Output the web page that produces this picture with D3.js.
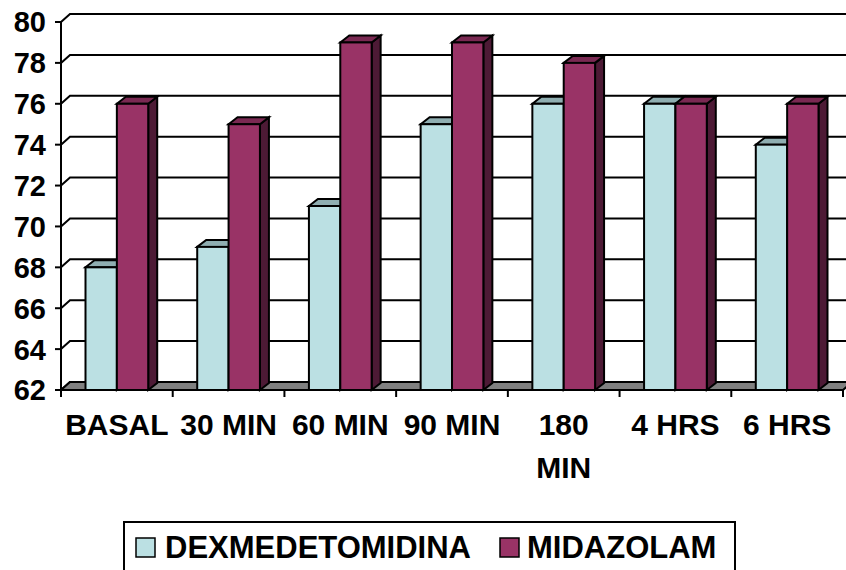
<!DOCTYPE html>
<html>
<head>
<meta charset="utf-8">
<script src="https://cdn.jsdelivr.net/npm/d3@7/dist/d3.min.js"></script>
<style>
  html, body { margin: 0; padding: 0; background: #fff; }
  svg { display: block; }
  text { font-family: Arial, "Liberation Sans", sans-serif; font-weight: bold; fill: #000; }
</style>
</head>
<body>
<script>
const categories = ["BASAL", "30 MIN", "60 MIN", "90 MIN", "180 MIN", "4 HRS", "6 HRS"];
const seriesNames = ["DEXMEDETOMIDINA", "MIDAZOLAM"];
const dexValues = [68, 69, 71, 75, 76, 76, 74];
const midValues = [76, 75, 79, 79, 78, 76, 76];
const yTicks = [62, 64, 66, 68, 70, 72, 74, 76, 78, 80];

const W = 846, H = 570;
const colors = {
  DEXMEDETOMIDINA: { front: "#BBE0E3", top: "#8FAEB1", side: "#6F8C8E" },
  MIDAZOLAM: { front: "#993366", top: "#7A2952", side: "#4D1A35" }
};

const svg = d3.select("body").append("svg").attr("width", W).attr("height", H);

const x = d3.scaleBand().domain(categories).range([61, 843]).padding(0);
const y = d3.scaleLinear().domain([62, 80]).range([390, 22]);
const inner = d3.scaleBand().domain(seriesNames)
  .range([24.5, x.bandwidth() - 24.5]).padding(0);

const wallDx = 9, wallDy = -8;
const barDx = 9, barDy = -7;
const x0 = x.range()[0], x1 = x.range()[1];
const yBase = y(62);

// back wall gridlines with side-wall diagonals
const grid = svg.append("g");
yTicks.forEach(t => {
  const yy = y(t);
  grid.append("path")
    .attr("d", `M${x0},${yy} L${x0 + wallDx},${yy + wallDy} L${W + 20},${yy + wallDy}`)
    .attr("fill", "none").attr("stroke", "#000").attr("stroke-width", 2);
});

// floor
svg.append("path")
  .attr("d", `M${x0},${yBase} L${x1},${yBase} L${x1 + wallDx},${yBase + wallDy} L${x0 + wallDx},${yBase + wallDy} Z`)
  .attr("fill", "#808080").attr("stroke", "#000").attr("stroke-width", 2).attr("stroke-linejoin", "miter");

// bars
const data = categories.map((c, i) => ({ cat: c, vals: [
  { s: seriesNames[0], v: dexValues[i] },
  { s: seriesNames[1], v: midValues[i] }
]}));

const bars = svg.append("g");
data.forEach(d => {
  d.vals.forEach(b => {
    const bx = x(d.cat) + inner(b.s);
    const bw = inner.bandwidth();
    const by = y(b.v);
    const c = colors[b.s];
    const g = bars.append("g").attr("stroke", "#000").attr("stroke-width", 2).attr("stroke-linejoin", "miter");
    g.append("path")
      .attr("d", `M${bx + bw},${by} L${bx + bw + barDx},${by + barDy} L${bx + bw + barDx},${yBase + barDy} L${bx + bw},${yBase} Z`)
      .attr("fill", c.side);
    g.append("path")
      .attr("d", `M${bx},${by} L${bx + barDx},${by + barDy} L${bx + bw + barDx},${by + barDy} L${bx + bw},${by} Z`)
      .attr("fill", c.top);
    g.append("rect")
      .attr("x", bx).attr("y", by).attr("width", bw).attr("height", yBase - by)
      .attr("fill", c.front);
  });
});

// Y axis
const yAxisG = svg.append("g");
yAxisG.append("line").attr("x1", x0).attr("x2", x0).attr("y1", y(80)).attr("y2", yBase)
  .attr("stroke", "#000").attr("stroke-width", 2);
yTicks.forEach(t => {
  yAxisG.append("line").attr("x1", x0 - 6).attr("x2", x0).attr("y1", y(t)).attr("y2", y(t))
    .attr("stroke", "#000").attr("stroke-width", 2);
  yAxisG.append("text").attr("x", 46).attr("y", y(t)).attr("dy", "0.36em")
    .attr("text-anchor", "end").attr("font-size", 29).text(t);
});

// X axis
const xAxisG = svg.append("g");
xAxisG.append("line").attr("x1", x0).attr("x2", x1).attr("y1", yBase).attr("y2", yBase)
  .attr("stroke", "#000").attr("stroke-width", 2);
const boundaries = categories.map(c => x(c)).concat([x1]);
boundaries.forEach(bx => {
  xAxisG.append("line").attr("x1", bx).attr("x2", bx).attr("y1", yBase).attr("y2", yBase + 7)
    .attr("stroke", "#000").attr("stroke-width", 2);
});
const labelLines = { "180 MIN": ["180", "MIN"] };
categories.forEach(c => {
  const lines = labelLines[c] || [c];
  const t = xAxisG.append("text").attr("text-anchor", "middle").attr("font-size", 30)
    .attr("x", x(c) + x.bandwidth() / 2).attr("y", 435);
  lines.forEach((l, i) => {
    t.append("tspan").attr("x", x(c) + x.bandwidth() / 2).attr("dy", i === 0 ? 0 : 43).text(l);
  });
});

// Legend
const lg = svg.append("g");
lg.append("rect").attr("x", 124).attr("y", 522).attr("width", 611).attr("height", 80)
  .attr("fill", "#fff").attr("stroke", "#000").attr("stroke-width", 2);
const legendPos = [{ sx: 136, tx: 165 }, { sx: 500, tx: 527 }];
seriesNames.forEach((s, i) => {
  lg.append("rect").attr("x", legendPos[i].sx).attr("y", 538).attr("width", 19).attr("height", 19)
    .attr("fill", colors[s].front).attr("stroke", "#000").attr("stroke-width", 1.5);
  lg.append("text").attr("x", legendPos[i].tx).attr("y", 558).attr("font-size", 31).text(s);
});
</script>
</body>
</html>
